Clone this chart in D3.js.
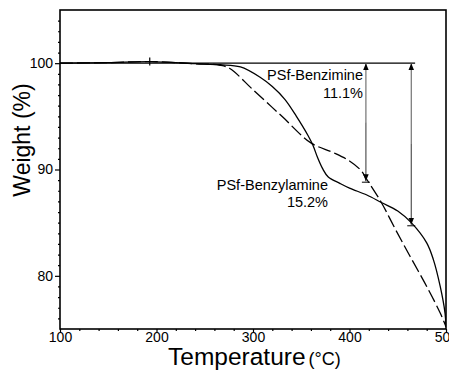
<!DOCTYPE html>
<html><head><meta charset="utf-8">
<script src="https://cdn.jsdelivr.net/npm/d3@7/dist/d3.min.js"></script>
<style>
body{margin:0;background:#fff;}
svg{display:block;font-family:"Liberation Sans",Arial,Helvetica,sans-serif;}
</style></head>
<body><svg id="c" width="449" height="373"></svg>
<script>
// Data
const benzimineT = [100,150,193,240,266,276,300,330,360,383,400,412,417,433,448,463,480,494,500];
const benzimineW = [100.0,100.05,100.15,99.95,99.8,99.5,97.5,95.0,92.5,91.6,90.8,89.9,89.2,86.9,84.3,81.8,79.0,76.5,75.2];
const benzylamineT = [100,150,193,240,266,287,307,320,333,345,357,362,367,372,378,390,400,418,433,450,464,480,487,494,499,500];
const benzylamineW = [100.0,100.05,100.15,99.95,99.85,99.65,98.7,97.8,96.6,95.0,93.2,92.3,91.1,90.1,89.3,88.7,88.25,87.6,86.9,86.1,85.0,83.1,81.5,79.0,76.5,75.2];
const xTicks = [100,200,300,400,500];
const yTicks = [80,90,100];
const arrowT = [417,464];
const arrowLoss = [11.1,15.2];
const labelNames = ["PSf-Benzimine","PSf-Benzylamine"];
const labelValues = ["11.1%","15.2%"];

const svg = d3.select("#c");
const L=60,R=446,T=10,B=329;
const x = d3.scaleLinear().domain([100,500]).range([L,R]);
const y = d3.scaleLinear().domain([75,105]).range([B,T]);

const defs = svg.append("defs");
defs.append("marker").attr("id","ah").attr("viewBox","0 0 10 10").attr("refX",10).attr("refY",5)
  .attr("markerWidth",7).attr("markerHeight",7).attr("markerUnits","userSpaceOnUse").attr("orient","auto")
  .append("path").attr("d","M0,1 L10,5 L0,9 Z").attr("fill","#000");
defs.append("clipPath").attr("id","clip").append("rect").attr("x",L).attr("y",T).attr("width",R-L).attr("height",B-T);

// axes
const xAxis = svg.append("g").attr("transform",`translate(0,${B})`)
  .call(d3.axisBottom(x).tickValues(xTicks).tickSize(3).tickFormat(d3.format("d")));
const xMinor = svg.append("g").attr("transform",`translate(0,${B})`)
  .call(d3.axisBottom(x).tickValues(d3.range(120,500,20).filter(v=>v%100)).tickSize(2).tickFormat(""));
const yAxis = svg.append("g").attr("transform",`translate(${L},0)`)
  .call(d3.axisLeft(y).tickValues(yTicks).tickSize(5).tickFormat(d3.format("d")));
const yMinor = svg.append("g").attr("transform",`translate(${L},0)`)
  .call(d3.axisLeft(y).tickValues(d3.range(76,105,1).filter(v=>v%10)).tickSize(2).tickFormat(""));
[xAxis,xMinor,yAxis,yMinor].forEach(g=>{g.select(".domain").remove();g.selectAll("line").attr("stroke","#000").attr("stroke-width",1.2);});
xAxis.selectAll("text").attr("font-size",14).attr("fill","#000").attr("y",3).attr("dy","0.71em").attr("font-family","Liberation Sans, Arial, sans-serif");
yAxis.selectAll("text").attr("font-size",14).attr("fill","#000").attr("x",-7).attr("font-family","Liberation Sans, Arial, sans-serif");

// frame
svg.append("rect").attr("x",L).attr("y",T).attr("width",R-L).attr("height",B-T)
  .attr("fill","none").attr("stroke","#000").attr("stroke-width",1.6);

// reference line at 100
svg.append("line").attr("x1",x(100)).attr("x2",x(468)).attr("y1",y(100)).attr("y2",y(100))
  .attr("stroke","#000").attr("stroke-width",1.3);

const line = d3.line().x(d=>x(d[0])).y(d=>y(d[1])).curve(d3.curveCatmullRom.alpha(0.5));
const g = svg.append("g").attr("clip-path","url(#clip)");
g.append("path").datum(benzimineT.map((t,i)=>[t,benzimineW[i]])).attr("d",line)
  .attr("fill","none").attr("stroke","#000").attr("stroke-width",1.3).attr("stroke-dasharray","13,4");
g.append("path").datum(benzylamineT.map((t,i)=>[t,benzylamineW[i]])).attr("d",line)
  .attr("fill","none").attr("stroke","#000").attr("stroke-width",1.3);

// small tick at 193
svg.append("line").attr("x1",x(193)).attr("x2",x(193)).attr("y1",y(100.15)-4).attr("y2",y(100.15)+4)
  .attr("stroke","#000").attr("stroke-width",1.2);

// arrows
arrowT.forEach((t,i)=>{
  const yb = y(100-arrowLoss[i]);
  const yt = y(100);
  svg.append("line").attr("x1",x(t)).attr("x2",x(t)).attr("y1",(yt+yb)/2).attr("y2",yt)
    .attr("stroke","#666").attr("stroke-width",1.1).attr("marker-end","url(#ah)");
  svg.append("line").attr("x1",x(t)).attr("x2",x(t)).attr("y1",(yt+yb)/2).attr("y2",yb)
    .attr("stroke","#444").attr("stroke-width",1.1).attr("marker-end","url(#ah)");
  svg.append("line").attr("x1",x(t)-4).attr("x2",x(t)+4).attr("y1",yb+1).attr("y2",yb+1)
    .attr("stroke","#000").attr("stroke-width",1);
});

// labels
const lab = svg.append("g").attr("font-size",14.5).attr("fill","#000").attr("text-anchor","end");
lab.append("text").attr("x",363).attr("y",80).text(labelNames[0]);
lab.append("text").attr("x",363).attr("y",98).text(labelValues[0]);
lab.append("text").attr("x",328).attr("y",190).text(labelNames[1]);
lab.append("text").attr("x",328).attr("y",207).text(labelValues[1]);

// axis titles
const xt = svg.append("text").attr("x",168).attr("y",365).attr("font-size",24.5).attr("fill","#000");
xt.append("tspan").text("Temperature");
xt.append("tspan").attr("font-size",18).attr("dx",3).text("(°C)");
svg.append("text").attr("transform","translate(30,140) rotate(-90)").attr("text-anchor","middle")
  .attr("font-size",23).attr("fill","#000").text("Weight (%)");
</script></body></html>
